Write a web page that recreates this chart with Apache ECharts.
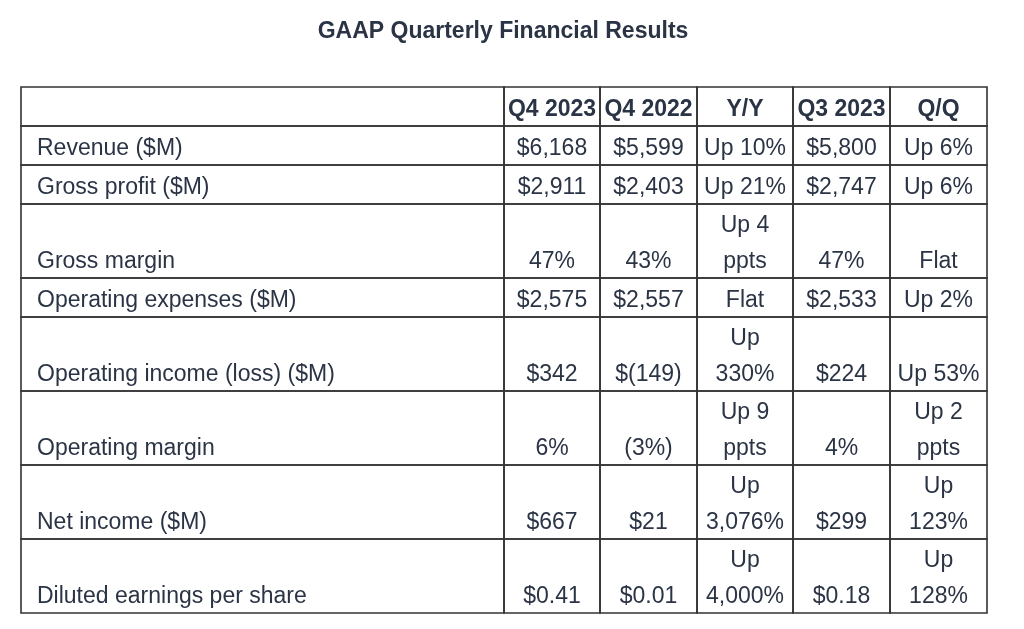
<!DOCTYPE html>
<html>
<head>
<meta charset="utf-8">
<script src="https://cdn.jsdelivr.net/npm/echarts@6/dist/echarts.min.js"></script>
<style>html,body{margin:0;padding:0;background:#fff}#c{width:1024px;height:629px}</style>
</head>
<body>
<div id="c"></div>
<script>
// ---- data ----
const titleText = 'GAAP Quarterly Financial Results';
const columnHeaders = ['', 'Q4 2023', 'Q4 2022', 'Y/Y', 'Q3 2023', 'Q/Q'];
const rowLabels = ['Revenue ($M)', 'Gross profit ($M)', 'Gross margin', 'Operating expenses ($M)',
  'Operating income (loss) ($M)', 'Operating margin', 'Net income ($M)', 'Diluted earnings per share'];
const q4_2023 = ['$6,168', '$2,911', '47%', '$2,575', '$342', '6%', '$667', '$0.41'];
const q4_2022 = ['$5,599', '$2,403', '43%', '$2,557', '$(149)', '(3%)', '$21', '$0.01'];
const yoy = ['Up 10%', 'Up 21%', 'Up 4\nppts', 'Flat', 'Up\n330%', 'Up 9\nppts', 'Up\n3,076%', 'Up\n4,000%'];
const q3_2023 = ['$5,800', '$2,747', '47%', '$2,533', '$224', '4%', '$299', '$0.18'];
const qoq = ['Up 6%', 'Up 6%', 'Flat', 'Up 2%', 'Up 53%', 'Up 2\nppts', 'Up\n123%', 'Up\n128%'];

// ---- layout ----
const colWidths = [483, 96, 97, 96, 97, 97];
const lineH = 35, rowPad = 4;
const textColor = '#2b3445';
const lineColor = '#333333';
const fontFamily = '"Liberation Sans", Arial, Helvetica, sans-serif';
const fontSize = 23;

const columns = [rowLabels, q4_2023, q4_2022, yoy, q3_2023, qoq];
const table = [columnHeaders.slice()];
for (let r = 0; r < rowLabels.length; r++) table.push(columns.map(col => col[r]));
const rowLines = table.map(row => Math.max(...row.map(t => String(t).split('\n').length)));
const rowHeights = rowLines.map(n => rowPad + lineH * n);
const colEdges = [0]; colWidths.forEach(w => colEdges.push(colEdges[colEdges.length - 1] + w));
const rowEdges = [0]; rowHeights.forEach(h => rowEdges.push(rowEdges[rowEdges.length - 1] + h));
const totalW = colEdges[colEdges.length - 1], totalH = rowEdges[rowEdges.length - 1];

const cells = [];
table.forEach((row, r) => row.forEach((t, c) => cells.push([c, r, t])));

const chart = echarts.init(document.getElementById('c'), null, {renderer: 'canvas'});
chart.setOption({
  animation: false,
  backgroundColor: '#fff',
  title: {
    text: titleText, left: 498, top: 15, textAlign: 'center',
    textStyle: {fontFamily, fontSize: 23, fontWeight: 'bold', color: textColor}
  },
  grid: {left: 21, top: 87, width: totalW, height: totalH},
  xAxis: {type: 'value', min: 0, max: totalW, show: false},
  yAxis: {type: 'value', min: 0, max: totalH, inverse: true, show: false},
  series: [{
    type: 'custom',
    data: cells,
    renderItem: function (params, api) {
      const c = api.value(0), r = api.value(1);
      const t = cells[params.dataIndex][2];
      const p0 = api.coord([colEdges[c], rowEdges[r]]);
      const p1 = api.coord([colEdges[c + 1], rowEdges[r + 1]]);
      const isLabel = c === 0;
      return {
        type: 'group',
        children: [
          {type: 'rect', shape: {x: p0[0], y: p0[1], width: p1[0] - p0[0], height: p1[1] - p0[1]},
            style: {fill: 'none', stroke: lineColor, lineWidth: 1.6}},
          {type: 'text', x: isLabel ? p0[0] + 16 : (p0[0] + p1[0]) / 2, y: p1[1] + 1.5,
            style: {text: t, fill: textColor, fontFamily, fontSize,
              fontWeight: r === 0 ? 'bold' : 'normal', lineHeight: 36,
              align: isLabel ? 'left' : 'center', verticalAlign: 'bottom'}}
        ]
      };
    }
  }]
});
</script>
</body>
</html>
